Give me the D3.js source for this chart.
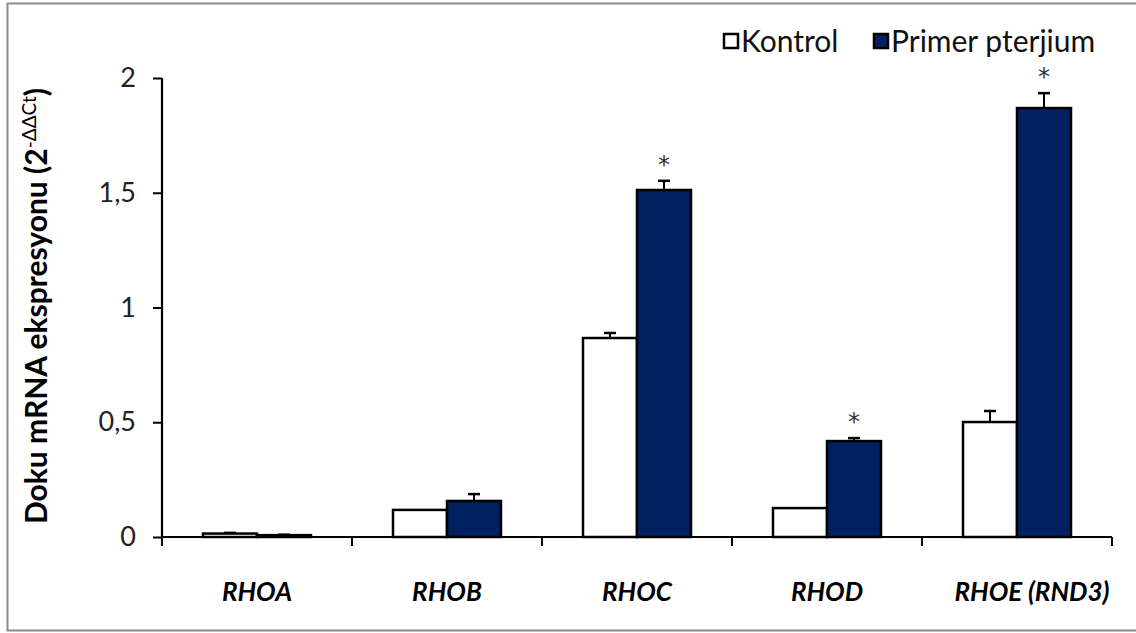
<!DOCTYPE html>
<html>
<head>
<meta charset="utf-8">
<script src="https://cdn.jsdelivr.net/npm/d3@7"></script>
<style>
	body { margin: 0; background: #fff; }
	text { font-family: Lato, "Open Sans", sans-serif; }
</style>
</head>
<body>
<svg width="1136" height="633"></svg>
<script>
const genes = ["RHOA", "RHOB", "RHOC", "RHOD", "RHOE (RND3)"]
const groups = ["Kontrol", "Primer pterjium"]
const kontrol = [0.015, 0.118, 0.867, 0.126, 0.501]
const kontrolErr = [0.003, 0, 0.022, 0, 0.048]
const pterjium = [0.008, 0.157, 1.512, 0.418, 1.869]
const pterjiumErr = [0.002, 0.03, 0.04, 0.013, 0.065]
const significant = [false, false, true, true, true]
const yTicks = [0, 0.5, 1, 1.5, 2]
const colors = ["#ffffff", "#002060"]

const svg = d3.select("svg")

// outer frame
svg.append("rect")
	.attr("x", 7.5).attr("y", 3.5)
	.attr("width", 1140).attr("height", 627)
	.attr("fill", "none")
	.attr("stroke", "#8c8c8c")
	.attr("stroke-width", 2)

const x = d3.scaleBand()
	.domain(genes)
	.range([162, 1112])

const x1 = d3.scaleBand()
	.domain(groups)
	.range([41, 190 - 41])

const y = d3.scaleLinear()
	.domain([0, 2])
	.range([537, 78])

const fmt = d => String(d).replace(".", ",")

// y axis
const yAxis = svg.append("g")
	.attr("transform", "translate(162,0)")
	.call(d3.axisLeft(y).tickValues(yTicks).tickFormat(fmt).tickSize(9).tickPadding(17))
yAxis.select(".domain").attr("stroke-width", 2.2).attr("d", "M0," + y(0) + "V" + y(2))
yAxis.selectAll(".tick line").attr("stroke-width", 2)
yAxis.selectAll(".tick text")
	.attr("font-size", 27)
	.attr("fill", "#222")
	.style("font-family", "Lato, sans-serif")

// x axis
const xAxis = svg.append("g")
	.attr("transform", "translate(0," + y(0) + ")")
const bounds = d3.range(genes.length + 1).map(i => 162 + i * x.bandwidth())
xAxis.append("line")
	.attr("x1", 162).attr("x2", 1112)
	.attr("stroke", "#000").attr("stroke-width", 2.2)
xAxis.selectAll("line.tk")
	.data(bounds)
	.join("line")
	.attr("class", "tk")
	.attr("x1", d => d).attr("x2", d => d)
	.attr("y1", 0).attr("y2", 9)
	.attr("stroke", "#000").attr("stroke-width", 2)
xAxis.selectAll("text")
	.data(genes)
	.join("text")
	.attr("x", d => x(d) + x.bandwidth() / 2)
	.attr("dx", (d, i) => i == genes.length - 1 ? 15 : 0)
	.attr("y", 64)
	.attr("text-anchor", "middle")
	.attr("font-size", 26)
	.attr("font-weight", "bold")
	.attr("font-style", "italic")
	.text(d => d)

// bars
const rows = genes.map((g, i) => ({
	gene: g,
	vals: [
		{ key: groups[0], v: kontrol[i], e: kontrolErr[i], c: colors[0] },
		{ key: groups[1], v: pterjium[i], e: pterjiumErr[i], c: colors[1] }
	]
}))

const grp = svg.append("g")
	.selectAll("g")
	.data(rows)
	.join("g")
	.attr("transform", d => "translate(" + x(d.gene) + ",0)")

grp.selectAll("line.err")
	.data(d => d.vals.filter(v => v.e > 0))
	.join("line")
	.attr("class", "err")
	.attr("x1", d => x1(d.key) + x1.bandwidth() / 2)
	.attr("x2", d => x1(d.key) + x1.bandwidth() / 2)
	.attr("y1", d => y(d.v))
	.attr("y2", d => y(d.v + d.e))
	.attr("stroke", "#000").attr("stroke-width", 2)

grp.selectAll("line.cap")
	.data(d => d.vals.filter(v => v.e > 0))
	.join("line")
	.attr("class", "cap")
	.attr("x1", d => x1(d.key) + x1.bandwidth() / 2 - 6)
	.attr("x2", d => x1(d.key) + x1.bandwidth() / 2 + 6)
	.attr("y1", d => y(d.v + d.e))
	.attr("y2", d => y(d.v + d.e))
	.attr("stroke", "#000").attr("stroke-width", 2.5)

grp.selectAll("rect")
	.data(d => d.vals)
	.join("rect")
	.attr("x", d => x1(d.key))
	.attr("width", x1.bandwidth())
	.attr("y", d => y(d.v))
	.attr("height", d => y(0) - y(d.v))
	.attr("fill", d => d.c)
	.attr("stroke", "#000")
	.attr("stroke-width", 2.5)

// significance stars
svg.append("g")
	.selectAll("text")
	.data(rows.filter((d, i) => significant[i]))
	.join("text")
	.attr("x", d => x(d.gene) + x1(groups[1]) + x1.bandwidth() / 2)
	.attr("y", d => y(d.vals[1].v + d.vals[1].e) - 8)
	.attr("text-anchor", "middle")
	.attr("font-size", 24)
	.attr("fill", "#333")
	.style("font-family", "'DejaVu Sans', sans-serif")
	.text("*")

// y label
const yl = svg.append("text")
	.attr("transform", "translate(47,306) rotate(-90)")
	.attr("text-anchor", "middle")
	.attr("font-size", 30)
	.attr("font-weight", "bold")
yl.append("tspan").text("Doku mRNA ekspresyonu (2")
yl.append("tspan").attr("dy", -11).attr("font-size", 19).attr("font-weight", "normal").text("-ΔΔCt")
yl.append("tspan").attr("dy", 11).text(")")

// legend
const legend = svg.append("g")
	.selectAll("g")
	.data(groups)
	.join("g")
	.attr("transform", (d, i) => "translate(" + [724, 874][i] + ",34)")
legend.append("rect")
	.attr("width", 14).attr("height", 14)
	.attr("fill", (d, i) => colors[i])
	.attr("stroke", "#000").attr("stroke-width", 2.5)
legend.append("text")
	.attr("x", 17).attr("y", 18)
	.attr("font-size", 30)
	.attr("fill", "#111")
	.text(d => d)
</script>
</body>
</html>
